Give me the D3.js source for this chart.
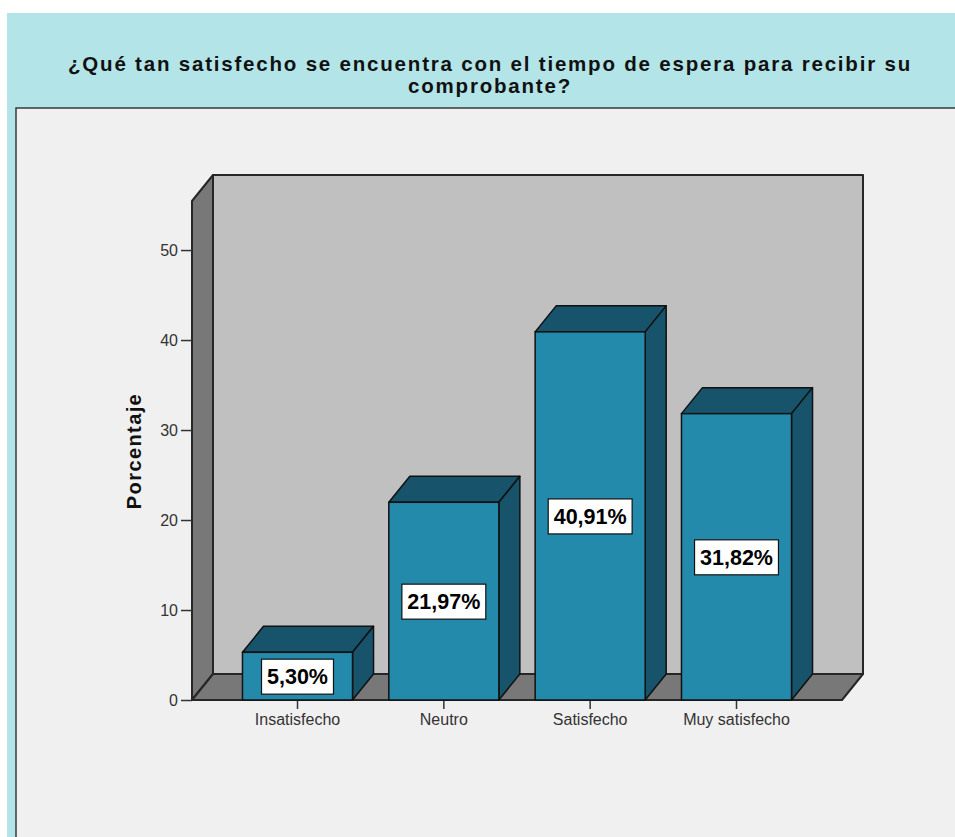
<!DOCTYPE html>
<html>
<head>
<meta charset="utf-8">
<script src="https://cdn.jsdelivr.net/npm/d3@7/dist/d3.min.js"></script>
<style>
  html, body { margin: 0; padding: 0; background: #ffffff; }
  svg { display: block; font-family: Arial, "Liberation Sans", sans-serif; }
</style>
</head>
<body>
<svg id="chart" width="955" height="837"></svg>
<script>
// Survey answers and their percentages
const categories = ["Insatisfecho", "Neutro", "Satisfecho", "Muy satisfecho"];
const percentages = [5.30, 21.97, 40.91, 31.82];
const valueLabels = ["5,30%", "21,97%", "40,91%", "31,82%"];
const yTicks = [0, 10, 20, 30, 40, 50];
const titleLines = [
  "¿Qué tan satisfecho se encuentra con el tiempo de espera para recibir su",
  "comprobante?"
];
const yAxisTitle = "Porcentaje";

const svg = d3.select("#chart");

// Panel frame: teal header and left strip, light grey plotting panel
svg.append("rect").attr("x", 7).attr("y", 13).attr("width", 948).attr("height", 824)
  .attr("fill", "#b3e5e8");
svg.append("rect").attr("x", 16).attr("y", 108).attr("width", 939).attr("height", 729)
  .attr("fill", "#f0f0f0");
svg.append("path").attr("d", "M16,837V108H955")
  .attr("fill", "none").attr("stroke", "#3a3a3a").attr("stroke-width", 1.5);

// Title (wide bold face: slight extra tracking)
svg.append("g").selectAll("text").data(titleLines).join("text")
  .attr("x", 490).attr("y", (d, i) => 71 + i * 22)
  .attr("text-anchor", "middle")
  .attr("font-weight", "bold").attr("font-size", 20.5).attr("fill", "#111")
  .attr("letter-spacing", 1.8)
  .text(d => d);

// Scales (front plane) and 3D depth offset
const x0 = 192, x1 = 842, yBase = 700;
const depthX = 21, depthY = -26;
const x = d3.scaleBand().domain(categories).range([x0, x1])
  .paddingInner(0.248).paddingOuter(0.345);
const y = d3.scaleLinear().domain([0, 55.45]).range([yBase, 201]);
const yTop = y.range()[1];

const pts = a => a.map(p => p.join(",")).join(" ");
const wallStroke = "#262626";

// Back wall
svg.append("polygon")
  .attr("points", pts([[x0 + depthX, yTop + depthY], [x1 + depthX, yTop + depthY],
                       [x1 + depthX, yBase + depthY], [x0 + depthX, yBase + depthY]]))
  .attr("fill", "#c0c0c0").attr("stroke", wallStroke).attr("stroke-width", 2)
  .attr("stroke-linejoin", "round");
// Left wall
svg.append("polygon")
  .attr("points", pts([[x0, yBase], [x0 + depthX, yBase + depthY],
                       [x0 + depthX, yTop + depthY], [x0, yTop]]))
  .attr("fill", "#787878").attr("stroke", wallStroke).attr("stroke-width", 2)
  .attr("stroke-linejoin", "round");
// Floor
svg.append("polygon")
  .attr("points", pts([[x0, yBase], [x1, yBase],
                       [x1 + depthX, yBase + depthY], [x0 + depthX, yBase + depthY]]))
  .attr("fill", "#787878").attr("stroke", wallStroke).attr("stroke-width", 2)
  .attr("stroke-linejoin", "round");

// Y axis ticks and labels
const yAxis = d3.axisLeft(y).tickValues(yTicks).tickSize(11).tickPadding(3)
  .tickFormat(d3.format("d"));
const gy = svg.append("g").attr("transform", `translate(${x0},0)`).call(yAxis);
gy.select(".domain").remove();
gy.selectAll(".tick line").attr("stroke", "#333").attr("stroke-width", 1.5);
gy.selectAll(".tick text").attr("font-size", 16).attr("fill", "#333")
  .attr("font-family", "Arial, 'Liberation Sans', sans-serif");

// X axis ticks and labels
const xAxis = d3.axisBottom(x).tickSize(9).tickPadding(5);
const gx = svg.append("g").attr("transform", `translate(0,${yBase})`).call(xAxis);
gx.select(".domain").remove();
gx.selectAll(".tick line").attr("stroke", "#333").attr("stroke-width", 1.5);
gx.selectAll(".tick text").attr("font-size", 16).attr("fill", "#333")
  .attr("font-family", "Arial, 'Liberation Sans', sans-serif");

// Y axis title
svg.append("text")
  .attr("transform", "translate(141,451) rotate(-90)")
  .attr("text-anchor", "middle")
  .attr("font-weight", "bold").attr("font-size", 20).attr("fill", "#111")
  .attr("letter-spacing", 1.4)
  .text(yAxisTitle);

// 3D bars: front face, top face, right side face
const frontColor = "#238aab", darkColor = "#17536a";
const bars = svg.append("g").selectAll("g")
  .data(categories.map((c, i) => ({ c, v: percentages[i], label: valueLabels[i] })))
  .join("g");

bars.each(function (d) {
  const g = d3.select(this);
  const l = x(d.c), r = l + x.bandwidth(), t = y(d.v), b = y(0);
  g.append("polygon")
    .attr("points", pts([[l, t], [l + depthX, t + depthY], [r + depthX, t + depthY], [r, t]]))
    .attr("fill", darkColor).attr("stroke", "#111").attr("stroke-width", 1.5)
    .attr("stroke-linejoin", "round");
  g.append("polygon")
    .attr("points", pts([[r, t], [r + depthX, t + depthY], [r + depthX, b + depthY], [r, b]]))
    .attr("fill", darkColor).attr("stroke", "#111").attr("stroke-width", 1.5)
    .attr("stroke-linejoin", "round");
  g.append("rect")
    .attr("x", l).attr("y", t).attr("width", r - l).attr("height", b - t)
    .attr("fill", frontColor).attr("stroke", "#111").attr("stroke-width", 1.5);

  // value label box centred on the front face
  const cx = l + x.bandwidth() / 2, cy = (t + b) / 2;
  const txt = g.append("text")
    .attr("x", cx).attr("y", cy + 8)
    .attr("text-anchor", "middle")
    .attr("font-weight", "bold").attr("font-size", 21.5).attr("fill", "#000")
    .text(d.label);
  const w = txt.node().getComputedTextLength() + 11;
  g.insert("rect", "text")
    .attr("x", cx - w / 2).attr("y", cy - 17).attr("width", w).attr("height", 35)
    .attr("fill", "#ffffff").attr("stroke", "#111").attr("stroke-width", 1.2);
});
</script>
</body>
</html>
